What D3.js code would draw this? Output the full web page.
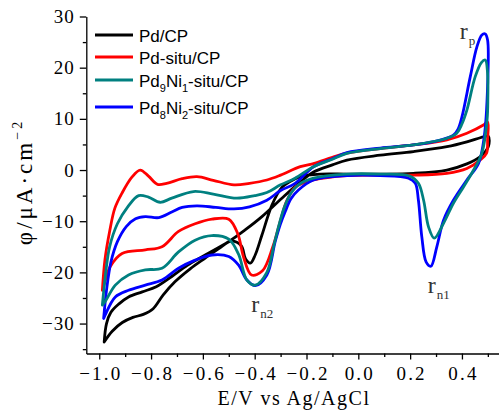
<!DOCTYPE html>
<html>
<head>
<meta charset="utf-8">
<script src="https://cdn.jsdelivr.net/npm/d3@7"></script>
<style>
  html, body { margin: 0; padding: 0; background: #fff; }
  svg { display: block; }
</style>
</head>
<body>
<svg id="chart" width="499" height="411"></svg>
<script>
// Cyclic voltammograms: [potential E (V vs Ag/AgCl), current density (µA·cm⁻²)]
// Each loop: anodic sweep from -1.0 V up to 0.5 V, then cathodic sweep back.
const pdCP = [
  [-0.981,-33.6],[-0.972,-30],[-0.955,-27.8],[-0.925,-26.2],[-0.887,-24.8],[-0.834,-23.8],
  [-0.78,-22.8],[-0.72,-20.8],[-0.66,-18.6],[-0.591,-16.6],[-0.501,-14],[-0.437,-11.7],
  [-0.372,-9.1],[-0.295,-5.5],[-0.23,-2.6],[-0.173,-0.4],[-0.1,1.0],[-0.044,1.95],
  [0.085,2.9],[0.213,3.6],[0.342,4.55],[0.419,5.5],[0.483,6.5],[0.502,6.6],
  [0.502,4.6],[0.47,2.6],[0.419,1.2],[0.342,0],[0.213,-0.65],[0.085,-0.8],[-0.044,-0.8],
  [-0.147,-0.8],[-0.224,-1.3],[-0.262,-2.2],[-0.295,-3.4],[-0.333,-6.8],[-0.372,-12.7],
  [-0.398,-16.6],[-0.417,-18.2],[-0.435,-17.4],[-0.452,-14.8],[-0.49,-13.9],[-0.54,-15.4],
  [-0.591,-17.2],[-0.649,-19.3],[-0.707,-21.8],[-0.753,-24.4],[-0.792,-27.1],[-0.83,-28.2],
  [-0.87,-28.8],[-0.911,-29.8],[-0.95,-31.5],[-0.981,-33.6]
];
const pdSituCP = [
  [-0.988,-23.5],[-0.978,-17.5],[-0.96,-12],[-0.94,-7.5],[-0.912,-4.5],[-0.874,-1.4],
  [-0.842,0],[-0.81,-1.2],[-0.775,-2.8],[-0.74,-2.6],[-0.68,-1.7],[-0.623,-1.3],
  [-0.56,-2],[-0.48,-2.9],[-0.42,-2.6],[-0.353,-1.95],[-0.3,-1],[-0.224,0.65],[-0.17,1.3],
  [-0.1,2.5],[-0.044,3.3],[0.085,4.2],[0.212,4.9],[0.342,5.9],[0.419,7.2],[0.483,8.8],
  [0.499,9.4],[0.499,6],[0.495,3.3],[0.47,1.95],[0.419,0.3],[0.342,-0.65],[0.213,-1],
  [0.085,-1],[-0.044,-1.1],[-0.173,-1.95],[-0.24,-3.2],[-0.275,-5.9],[-0.3,-9.8],
  [-0.33,-15],[-0.37,-19.7],[-0.412,-20.5],[-0.443,-17],[-0.465,-12.5],[-0.5,-9.6],
  [-0.565,-9.6],[-0.63,-10.5],[-0.694,-12],[-0.758,-15],[-0.822,-15.6],[-0.912,-16.3],
  [-0.958,-18.9],[-0.982,-22.5],[-0.988,-23.5]
];
const pd9Ni1SituCP = [
  [-0.988,-26.4],[-0.975,-20],[-0.96,-15],[-0.93,-10.5],[-0.89,-7.2],[-0.848,-5],
  [-0.81,-5.3],[-0.765,-6.3],[-0.72,-5.5],[-0.636,-4.2],[-0.56,-4.7],[-0.47,-5.5],
  [-0.4,-5],[-0.353,-4.4],[-0.3,-2.9],[-0.244,-1.6],[-0.173,0.65],[-0.1,2.1],
  [-0.044,3.26],[0.085,4.2],[0.212,4.9],[0.342,6.2],[0.38,7.2],[0.4,9],[0.419,11.7],
  [0.451,18.2],[0.475,21],[0.49,21.5],[0.499,18.9],[0.5,14],[0.497,9.8],[0.477,3.3],
  [0.445,0],[0.406,-3.3],[0.367,-6.5],[0.329,-10.4],[0.293,-13.3],[0.271,-11.1],
  [0.252,-5.9],[0.232,-2.6],[0.2,-1.2],[0.085,-0.8],[-0.044,-0.8],[-0.173,-1.6],
  [-0.231,-2.9],[-0.26,-4.5],[-0.285,-7.2],[-0.305,-10.5],[-0.325,-14.5],[-0.353,-20],
  [-0.398,-22.5],[-0.43,-21.5],[-0.462,-16.5],[-0.5,-13.5],[-0.565,-12.8],[-0.63,-13.7],
  [-0.694,-16],[-0.758,-19.2],[-0.822,-19.5],[-0.887,-20.5],[-0.938,-22.5],[-0.977,-25.7],
  [-0.988,-26.4]
];
const pd8Ni2SituCP = [
  [-0.983,-29],[-0.972,-23.5],[-0.955,-18],[-0.93,-14],[-0.895,-11],[-0.86,-9.5],
  [-0.822,-9.1],[-0.77,-9.3],[-0.72,-8.2],[-0.68,-7.3],[-0.623,-7],[-0.55,-7.3],
  [-0.48,-7.6],[-0.42,-7.2],[-0.353,-5.9],[-0.3,-4],[-0.244,-2.6],[-0.173,0.65],
  [-0.1,2.2],[-0.044,3.4],[0.085,4.3],[0.212,4.9],[0.316,5.86],[0.367,6.8],[0.385,8],
  [0.4,10.4],[0.432,18.2],[0.458,24.1],[0.477,26.4],[0.49,26.6],[0.499,25.4],
  [0.499,16.3],[0.486,6.5],[0.464,1.3],[0.419,-1.95],[0.367,-5.9],[0.329,-9.8],
  [0.303,-15],[0.28,-18.8],[0.262,-18],[0.245,-13],[0.232,-5.9],[0.22,-2.6],[0.194,-1.6],
  [0.085,-1.1],[-0.044,-1.1],[-0.173,-1.95],[-0.231,-3.9],[-0.26,-5.6],[-0.282,-8.1],
  [-0.301,-10.6],[-0.321,-14],[-0.353,-20.5],[-0.398,-22.6],[-0.43,-21.5],[-0.462,-18.6],
  [-0.5,-16.9],[-0.565,-16.6],[-0.63,-17.6],[-0.694,-19.2],[-0.758,-21.5],[-0.822,-22.5],
  [-0.887,-23.5],[-0.938,-24.8],[-0.977,-28.3],[-0.983,-29]
];

// Legend labels, split into [text, isSubscript] runs
const seriesNames = [
  [["Pd/CP", false]],
  [["Pd-situ/CP", false]],
  [["Pd", false], ["9", true], ["Ni", false], ["1", true], ["-situ/CP", false]],
  [["Pd", false], ["8", true], ["Ni", false], ["2", true], ["-situ/CP", false]]
];
const seriesColors = ["#000000", "#ff0000", "#008080", "#0000ff"];
const seriesData = [pdCP, pdSituCP, pd9Ni1SituCP, pd8Ni2SituCP];

const xMajorTicks = [-1.0, -0.8, -0.6, -0.4, -0.2, 0.0, 0.2, 0.4];
const xMinorTicks = [-0.9, -0.7, -0.5, -0.3, -0.1, 0.1, 0.3, 0.5];
const yMajorTicks = [-30, -20, -10, 0, 10, 20, 30];
const yMinorTicks = [-35, -25, -15, -5, 5, 15, 25];

// Peak labels: [base, subscript, E, j]
const peakLabels = [
  ["r", "p", 0.392, 25.6],
  ["r", "n1", 0.268, -24],
  ["r", "n2", -0.413, -27.7]
];

const svg = d3.select("#chart");

const x = d3.scaleLinear().domain([-1.05, 0.55]).range([86.3, 500.8]);
const y = d3.scaleLinear().domain([-35.85, 30]).range([353.5, 16.5]);

const tickFont = "'Liberation Serif', 'Times New Roman', serif";

// x axis
const xAxisG = svg.append("g").attr("transform", `translate(0,${y(-35.85)})`);
xAxisG.call(d3.axisBottom(x).tickValues(xMajorTicks).tickSize(6).tickSizeOuter(0)
  .tickPadding(7).tickFormat(d3.format(".1f")));
xAxisG.append("g").call(d3.axisBottom(x).tickValues(xMinorTicks).tickSize(3.5)
  .tickSizeOuter(0).tickFormat(""))
  .select(".domain").remove();

// y axis
const yAxisG = svg.append("g").attr("transform", `translate(${x(-1.05)},0)`);
yAxisG.call(d3.axisLeft(y).tickValues(yMajorTicks).tickSize(6.5).tickSizeOuter(0)
  .tickPadding(5).tickFormat(d3.format("d")));
yAxisG.append("g").call(d3.axisLeft(y).tickValues(yMinorTicks).tickSize(3.5)
  .tickSizeOuter(0).tickFormat(""))
  .select(".domain").remove();

svg.selectAll(".domain, .tick line").attr("stroke", "#000").attr("stroke-width", 1.3);
svg.selectAll(".tick text")
  .attr("font-family", tickFont)
  .attr("font-size", 19)
  .attr("fill", "#000");
xAxisG.selectAll(".tick text").attr("letter-spacing", 2.2).attr("dx", 1);
yAxisG.selectAll(".tick text").attr("letter-spacing", 1);

// axis titles
svg.append("text")
  .attr("x", 294).attr("y", 405)
  .attr("text-anchor", "middle")
  .attr("font-family", tickFont)
  .attr("font-size", 20)
  .attr("letter-spacing", 1.5)
  .text("E/V vs Ag/AgCl");

const yTitle = svg.append("text")
  .attr("transform", "translate(32,182) rotate(-90)")
  .attr("text-anchor", "middle")
  .attr("font-family", tickFont)
  .attr("font-size", 23)
  .attr("letter-spacing", 3);
yTitle.append("tspan").text("φ/μA·cm");
yTitle.append("tspan").attr("font-size", 14).attr("dy", -10).text("−2");

// curves
const line = d3.line()
  .x(d => x(d[0]))
  .y(d => y(d[1]))
  .curve(d3.curveCatmullRom.alpha(0.5));

const drawOrder = [0, 1, 3, 2];
svg.append("g").selectAll("path")
  .data(drawOrder)
  .join("path")
  .attr("d", i => line(seriesData[i]))
  .attr("fill", "none")
  .attr("stroke", i => seriesColors[i])
  .attr("stroke-width", 2.8)
  .attr("stroke-linejoin", "round")
  .attr("stroke-linecap", "round");

// legend
const legendRows = [35, 57, 80, 107];
const legend = svg.append("g");
seriesNames.forEach((runs, i) => {
  const ry = legendRows[i];
  legend.append("line")
    .attr("x1", 95).attr("x2", 133)
    .attr("y1", ry).attr("y2", ry)
    .attr("stroke", seriesColors[i])
    .attr("stroke-width", 3);
  const t = legend.append("text")
    .attr("x", 139).attr("y", ry + 6.5)
    .attr("font-family", "'Liberation Sans', Arial, sans-serif")
    .attr("font-size", 17)
    .attr("fill", "#000");
  let shifted = false;
  runs.forEach(([txt, sub]) => {
    const ts = t.append("tspan").text(txt);
    if (sub && !shifted) { ts.attr("dy", 5).attr("font-size", 11); shifted = true; }
    else if (sub) { ts.attr("font-size", 11); }
    else if (shifted) { ts.attr("dy", -5); shifted = false; }
  });
});

// peak labels
const ann = svg.append("g")
  .attr("font-family", tickFont)
  .attr("fill", "#333");
peakLabels.forEach(([base, sub, e, j]) => {
  const t = ann.append("text")
    .attr("x", x(e)).attr("y", y(j))
    .attr("font-size", 24);
  t.append("tspan").text(base);
  t.append("tspan").attr("font-size", 13).attr("dy", 6).attr("dx", 1).text(sub);
});
</script>
</body>
</html>
